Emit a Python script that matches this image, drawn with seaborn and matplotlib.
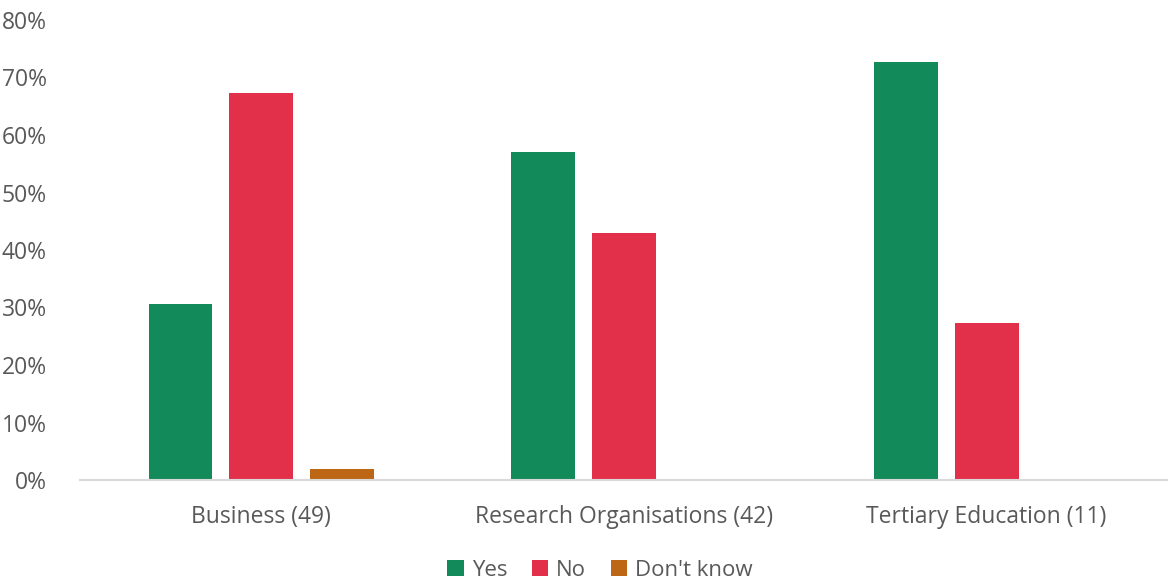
import pandas as pd
import matplotlib.pyplot as plt
import seaborn as sns
from matplotlib.ticker import PercentFormatter

categories = ['Business (49)', 'Research Organisations (42)', 'Tertiary Education (11)']
yes = [30.6, 57.1, 72.7]
no = [67.3, 42.9, 27.3]
dont_know = [2.0, None, None]
answers = ['Yes', 'No', "Don't know"]
colors = ['#138A5A', '#E3304A', '#BD6615']

rows = []
for cat, y, n, d in zip(categories, yes, no, dont_know):
    rows.append((cat, 'Yes', y))
    rows.append((cat, 'No', n))
    if d is not None:
        rows.append((cat, "Don't know", d))
df = pd.DataFrame(rows, columns=['group', 'answer', 'pct'])

sns.set_style('white')
plt.rcParams['font.family'] = ['Open Sans', 'DejaVu Sans']
grey = '#595959'

fig = plt.figure(figsize=(11.68, 5.83), dpi=100)
ax = fig.add_axes([80 / 1168, 1 - 480 / 583, 1 - 80 / 1168, 460 / 583])

sns.barplot(data=df, x='group', y='pct', hue='answer', hue_order=answers,
            order=categories, palette=colors, width=0.668, gap=0.21,
            saturation=1, linewidth=0, ax=ax)

ax.set_ylim(0, 80)
ax.set_xlim(-0.5, 2.5)
ax.set_yticks(range(0, 81, 10))
ax.yaxis.set_major_formatter(PercentFormatter(decimals=0))
ax.tick_params(axis='both', length=0, labelsize=16.5, labelcolor=grey)
ax.tick_params(axis='y', pad=24)
ax.tick_params(axis='x', pad=18)
ax.set_xlabel('')
ax.set_ylabel('')
for s in ['top', 'right', 'left']:
    ax.spines[s].set_visible(False)
ax.spines['bottom'].set_color('#D9D9D9')
ax.spines['bottom'].set_linewidth(1.5)

ax.legend(loc='upper center', bbox_to_anchor=(0.478, -0.14), ncol=3, frameon=False,
          fontsize=16, labelcolor=grey, handlelength=0.75, handleheight=0.75,
          handletextpad=0.35, columnspacing=1.1, borderpad=0.2)

fig.savefig('out.png', dpi=100)
